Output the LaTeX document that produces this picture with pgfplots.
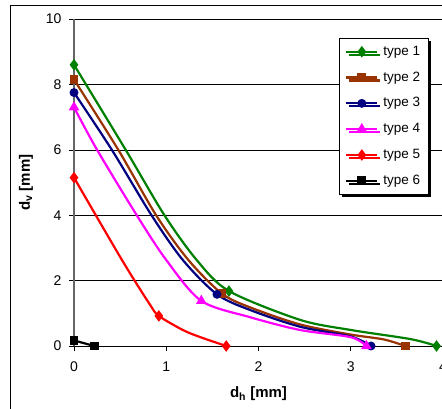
\documentclass[border=0pt]{standalone}
\usepackage{pgfplots}
\pgfplotsset{compat=1.18}
\usepackage{fontspec}
\setmainfont{Liberation Sans}
\usetikzlibrary{shadows}
\definecolor{c1}{RGB}{0,128,0}
\definecolor{c2}{RGB}{153,51,0}
\definecolor{c3}{RGB}{0,0,128}
\definecolor{c4}{RGB}{255,0,255}
\definecolor{c5}{RGB}{255,0,0}
\begin{document}
\begin{tikzpicture}
\clip (-74pt,-62pt) rectangle (368pt,346pt);
\fill[white] (-74pt,-62pt) rectangle (368pt,346pt);
\draw[line width=1pt] (-63pt,-100pt) rectangle (500pt,340pt);
\begin{axis}[
  at={(0pt,0pt)}, anchor=south west,
  scale only axis, width=369pt, height=327pt,
  xmin=0, xmax=4, ymin=0, ymax=10,
  xtick={0,1,2,3,4}, ytick={0,2,4,6,8,10},
  axis x line=bottom, axis y line=left,
  x axis line style={black,line width=0.8pt,-},
  y axis line style={gray!80!black,line width=1.2pt,-},
  ymajorgrids, grid style={black,line width=0.5pt},
  tick align=outside, major tick length=5pt,
  tick style={black,line width=0.6pt},
  /pgf/number format/assume math mode=true,
  ticklabel style={font=\fontsize{14}{16}\selectfont},
  xticklabel style={yshift=-7pt},
  yticklabel style={xshift=-4pt},
  xlabel={\textbf{d\textsubscript{h} [mm]}},
  ylabel={\textbf{d\textsubscript{v} [mm]}},
  every axis x label/.style={at={([yshift=-48pt]axis description cs:0.5,0)}, anchor=center, font=\fontsize{15}{17}\selectfont},
  every axis y label/.style={at={([xshift=-48pt]axis description cs:0,0.5)}, anchor=center, rotate=90, font=\fontsize{15}{17}\selectfont},
  clip=false,
  legend cell align=left,
  legend style={at={(axis description cs:0.718,0.942)}, anchor=north west,
    draw=black, line width=0.6pt, fill=white,
    font=\fontsize{13.5}{16}\selectfont,
    nodes={inner xsep=2pt, inner ysep=2pt, text height=10pt, text depth=3pt},
    row sep=8.8pt, inner xsep=6pt, inner ysep=5pt,
    /tikz/every odd column/.append style={column sep=3pt},
    drop shadow={shadow xshift=3pt, shadow yshift=-3pt, fill=black, opacity=1}},
  legend image code/.code={\draw[mark=none] (0pt,0pt) -- (31pt,0pt);
    \draw[only marks, mark indices={1}] plot coordinates {(15.5pt,0pt)};},
  every axis plot/.append style={line width=2.2pt, smooth, mark options={solid}},
]
\addplot[c1, mark=diamond*, mark size=4pt, mark indices={1,5,9}] coordinates {
 (0,8.6) (0.56,6.0) (0.98,4.0) (1.33,2.63) (1.68,1.68) (2.45,0.8) (3.0,0.49) (3.65,0.21) (3.93,0)};
\addlegendentry{type 1}
\addplot[c2, mark=square*, mark size=3.3pt, mark indices={1,5,10}] coordinates {
 (0,8.15) (0.48,6.0) (0.89,4.0) (1.24,2.63) (1.60,1.61) (1.91,1.18) (2.45,0.66) (3.0,0.35) (3.36,0.2) (3.59,0)};
\addlegendentry{type 2}
\addplot[c3, mark=*, mark size=3.3pt, mark indices={1,5,9}] coordinates {
 (0,7.75) (0.41,6.0) (0.84,4.0) (1.18,2.63) (1.55,1.58) (1.91,1.10) (2.45,0.59) (3.0,0.29) (3.22,0)};
\addlegendentry{type 3}
\addplot[c4, mark=triangle*, mark size=4pt, mark indices={1,5,9}] coordinates {
 (0,7.3) (0.25,6.0) (0.68,4.0) (1.0,2.63) (1.38,1.38) (1.91,0.88) (2.45,0.49) (3.0,0.27) (3.17,0)};
\addlegendentry{type 4}
\addplot[c5, mark=diamond*, mark size=4pt, mark indices={1,4,7}] coordinates {
 (0,5.15) (0.52,2.63) (0.82,1.28) (0.92,0.92) (1.18,0.49) (1.37,0.27) (1.65,0)};
\addlegendentry{type 5}
\addplot[black, mark=square*, mark size=3.3pt] coordinates {(0,0.17) (0.22,0)};
\addlegendentry{type 6}
\end{axis}
\end{tikzpicture}
\end{document}
